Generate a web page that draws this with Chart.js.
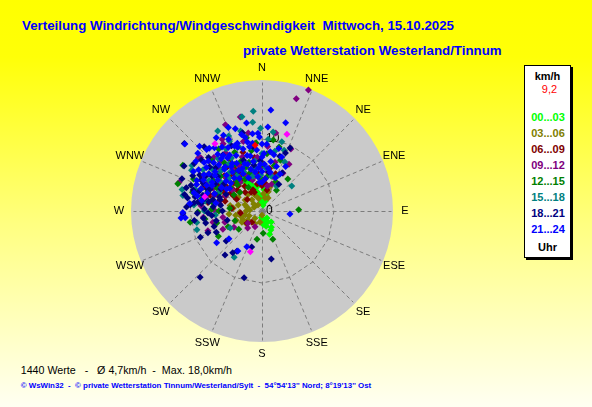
<!DOCTYPE html>
<html><head><meta charset="utf-8">
<script src="https://cdn.jsdelivr.net/npm/chart.js@4/dist/chart.umd.min.js"></script>
<style>
html,body{margin:0;padding:0;}
body{width:592px;height:407px;overflow:hidden;position:relative;
 background:linear-gradient(to bottom,#ffff00 0%,#ffff08 14%,#ffff80 55%,#fffff2 100%);
 font-family:"Liberation Sans",Arial,sans-serif;}
#c{position:absolute;left:0;top:0;}
.t{position:absolute;white-space:pre;line-height:1;}
#t1{left:22px;top:19.4px;font-weight:bold;font-size:13.3px;color:#0000ff;}
#t2{left:243px;top:44.2px;font-weight:bold;font-size:13.3px;color:#0000ff;}
#f1{left:20.7px;top:365px;font-size:10.7px;color:#000;}
#f2{left:20.7px;top:381.8px;font-size:7.9px;font-weight:bold;color:#0000ff;}
#box{position:absolute;left:524px;top:65px;width:45px;height:191px;background:#fff;border:1px solid #000;box-shadow:2px 2px 0 #000;}
.lg{position:absolute;left:524px;width:47px;text-align:center;font-size:11px;line-height:16px;height:16px;font-weight:bold;white-space:pre;}
</style></head>
<body>
<div class="t" id="t1"></div>
<div class="t" id="t2"></div>
<div class="t" id="f1"></div>
<div class="t" id="f2"></div>
<div id="box"></div>
<div id="legend"></div>
<canvas id="c" width="592" height="407"></canvas>
<script>
// ---------- texts ----------
const titleLine1 = 'Verteilung Windrichtung/Windgeschwindigkeit  Mittwoch, 15.10.2025';
const titleLine2 = 'private Wetterstation Westerland/Tinnum';
const footerLine1 = '1440 Werte   -   Ø 4,7km/h  -  Max. 18,0km/h';
const footerLine2 = '© WsWin32  -  © private Wetterstation Tinnum/Westerland/Sylt  -  54°54\'13\'\' Nord; 8°19\'13\'\' Ost';

// ---------- axes ----------
const dirLabels = ['N','NNE','NE','ENE','E','ESE','SE','SSE','S','SSW','SW','WSW','W','WNW','NW','NNW'];
const speedMax = 18.2;          // outer edge of the wind rose (km/h)
const ringValues = [10];        // dashed polygon ring
const radialTicks = [0, 10];    // tick labels on the north spoke

// ---------- legend ----------
const legendUnit = 'km/h';
const lastSpeedText = '9,2';
const timeBins = ['00...03','03...06','06...09','09...12','12...15','15...18','18...21','21...24'];
const binColors = ['#00ff00','#808000','#800000','#800080','#008000','#008080','#000080','#0000ff'];
const legendFooter = 'Uhr';

// ---------- data: [direction in degrees, speed in km/h] ----------
const wind_00_03 = [[323,6.7],[325,6.2],[328,5.8],[330,5.3],[332,4.9],[335,4.4],[338,4.0],[340,3.6],[343,3.2],[345,2.8],[348,2.5],[350,2.2],[352,1.9],[355,1.6],[358,1.3],[2,1.0],[10,0.8],[330,4.6],[334,3.8],[327,5.0],[342,2.6],[160,1.8],[165,2.2],[155,1.5],[170,1.2],[150,2.6],[175,1.9],[145,1.2],[185,0.9],[140,2.0],[20,1.5],[15,2.2],[345,4.8],[350,3.5],[0,2.0],[5,3.0],[336,5.4],[340,4.6],[155,2.9],[162,3.4]];
const wind_03_06 = [[284,3.4],[257,2.4],[275,1.7],[225,1.4],[267,3.1],[276,4.0],[326,1.0],[13,1.9],[18,2.8],[18,3.5],[180,0.6],[237,2.3],[318,2.1],[303,2.8],[261,3.7],[241,3.2],[190,1.6],[336,2.4],[319,3.0],[290,2.5],[250,1.9],[300,3.8],[270,2.2],[310,1.5],[230,2.8],[280,4.5],[295,1.2],[345,1.8],[5,2.4],[25,2.0],[265,4.6],[250,3.8],[255,3.0],[245,2.9],[285,2.2],[210,2.0]];
const wind_06_09 = [[314,10.1],[279,7.6],[337,3.2],[231,2.7],[13,3.0],[292,8.8],[222,2.1],[300,5.0],[305,6.2],[310,4.5],[315,5.5],[320,6.8],[325,4.2],[330,5.9],[335,7.2],[340,4.8],[345,6.0],[350,3.8],[355,5.2],[295,3.9],[285,5.3],[290,6.5],[318,3.5],[322,7.8],[328,8.4],[302,7.0],[312,8.0],[342,8.6],[275,4.2],[265,3.0],[5,4.5],[10,6.0],[338,2.8],[308,2.6],[298,4.5],[330,3.0],[316,6.6],[326,5.2],
  [303,6.0],[307,5.2],[313,7.2],[317,4.8],[323,6.2],[333,6.5],[343,5.5],[297,6.0],[287,7.5],[282,6.2],[292,5.5],[327,7.0],
  [2,6.5],[8,3.8],[20,5.5],[352,7.5],[0,3.5]];
const wind_09_12 = [[21,18.0],[17,16.3],[347,13.4],[337,13.0],[331,11.4],[330,10.8],[310,11.5],[220,3.1],[253,5.4],[261,5.5],[264,8.2],[229,2.6],[289,12.2],[311,11.3],[257,7.0],[204,2.4],[15,7.0],[29,6.0],[300,9.5],[320,9.0],[340,8.0],[355,7.5],[5,9.0],[350,11.0],[325,7.0],[295,7.5],[285,9.5],[275,8.5],[270,6.5],[245,6.0],[240,4.5],[250,8.0],[280,6.0],[305,5.0],[315,8.5],[335,5.5],[345,10.0],[10,11.0],[25,9.5],[20,4.0],
  [303,6.5],[313,7.0],[323,5.0],[333,7.0],[343,4.5],[293,5.5],[283,8.0],[308,8.0],[318,10.0],[328,9.5],[298,8.5],[288,7.0],
  [8,5.5],[18,5.0],[30,7.5],[358,6.0],[350,5.0],[12,3.5]];
const wind_12_15 = [[300,12.7],[288,12.3],[261,10.1],[269,8.9],[177,3.1],[159,4.2],[88,5.1],[39,5.7],[15,9.2],[348,10.4],[245,5.2],[232,4.1],[9,10.0],[262,8.0],[270,6.0],[280,7.0],[290,8.0],[300,6.5],[310,7.5],[320,5.5],[330,7.5],[340,6.5],[350,8.5],[355,9.5],[305,9.0],[295,10.5],[285,10.0],[315,9.8],[325,10.5],[335,9.0],[345,7.0],[0,6.5],[10,5.0],[20,7.5],[275,4.5],[255,6.5],[240,7.0],[250,4.0],[310,4.0],[330,3.8],[190,4.0],[300,4.5],
  [302,8.0],[312,6.5],[322,8.5],[332,5.0],[342,5.5],[292,6.5],[282,8.5],[272,7.0],[317,5.0],[327,6.5],[337,7.5],[307,5.5],[297,7.0],
  [5,8.0],[15,6.5],[25,4.5],[35,3.5],[352,6.0],[358,4.5]];
const wind_15_18 = [[355,13.9],[348,13.4],[354,12.4],[359,11.5],[331,12.7],[8,11.1],[336,11.4],[335,10.7],[16,10.0],[25,7.5],[303,11.6],[50,5.4],[281,11.2],[260,9.2],[254,9.4],[211,7.5],[242,5.0],[285,11.5],[300,11.3],[310,8.0],[320,9.5],[330,8.5],[340,9.5],[345,11.5],[350,9.0],[0,8.0],[5,10.0],[290,9.0],[275,9.5],[295,6.5],[315,6.5],[325,8.0],[335,6.0],[270,8.0],[265,6.5],[280,8.0],[305,10.0],[352,7.0],[12,8.5],[20,9.0],
  [300,8.5],[310,9.0],[320,7.0],[330,10.0],[288,9.8],[295,8.0],[305,7.0],[315,8.0],[325,6.0],[340,7.0],[350,6.0],[283,7.0],
  [5,6.0],[15,5.0],[25,5.5],[30,4.0],[358,5.0],[345,5.0]];
const wind_18_21 = [[346,11.2],[352,9.0],[24,9.6],[22,8.7],[32,4.4],[311,14.3],[287,11.0],[268,11.0],[247,9.3],[248,8.1],[215,7.1],[212,6.6],[196,5.2],[169,6.8],[223,12.6],[195,9.6],[275,10.0],[282,9.5],[290,10.5],[295,9.0],[300,10.0],[305,8.5],[310,9.5],[300,7.5],[290,7.0],[285,8.5],[280,7.5],[278,9.0],[272,8.0],[265,7.0],[258,8.0],[262,9.5],[252,7.0],[320,8.0],[325,9.5],[315,10.5],[330,6.5],[295,5.5],[285,6.0],[305,6.5],[310,11.0],[318,12.0],[335,10.0],[340,7.5],[270,5.5],[255,5.0],[245,7.0],[230,6.5],[220,8.0],[300,12.5],[292,12.0],[280,10.5],
  [277,8.5],[282,8.2],[287,9.2],[292,8.2],[297,9.5],[302,9.2],[287,10.0],[282,11.0],[277,9.5],[273,10.5],[268,9.0],[263,8.2],[275,6.8],[283,7.0],[293,7.8],[298,6.5],[308,7.8],[313,8.8],[297,10.8],[305,11.5],[288,6.2],[278,5.8],[268,7.5],[258,6.5],
  [10,5.5],[18,8.0],[28,6.0],[350,6.5],[358,7.0]];
const wind_21_24 = [[5,14.1],[350,12.4],[15,12.7],[4,11.7],[358,10.3],[311,14.2],[0,9.3],[4,9.3],[349,9.1],[320,11.4],[339,9.5],[8,8.3],[325,9.4],[26,5.7],[276,10.1],[265,10.7],[269,11.0],[265,11.3],[235,7.7],[230,6.0],[211,6.5],[203,5.4],[96,3.9],[357,10.8],[300,8.0],[305,9.0],[310,8.5],[315,9.5],[320,8.0],[325,7.5],[330,9.0],[335,8.5],[340,10.0],[345,8.0],[350,7.0],[355,8.5],[0,7.5],[10,7.0],[15,9.0],[20,8.0],[295,10.0],[290,9.0],[285,9.8],[280,8.5],[300,11.0],[310,10.5],[318,11.5],[328,10.5],[335,11.0],[342,12.0],[300,6.5],[310,6.5],[320,6.0],[330,6.5],[340,7.0],[350,5.5],[305,7.5],[315,7.0],[325,5.5],[335,6.5],[345,6.0],[355,6.0],[290,7.0],[280,6.5],[295,8.5],[312,12.0],[322,10.0],[332,7.5],[0,5.5],[8,6.0],[348,9.8],[338,5.0],[305,5.5],[328,12.0],
  [302,9.5],[308,9.8],[313,10.2],[317,8.8],[322,9.2],[327,8.8],[332,10.0],[337,9.8],[343,9.0],[347,10.5],[352,9.5],[298,9.2],[303,10.5],[307,11.5],[316,12.5],[323,11.0],[333,11.8],[338,12.5],[345,11.0],[353,10.8],[297,7.8],[302,5.8],[312,5.8],[318,7.8],[323,6.8],[328,7.8],[333,5.8],[343,6.8],[348,7.8],[353,4.8],[3,6.5],[12,8.0],[288,8.0],[283,9.2],[292,9.8],[307,8.2],
  [358,6.5],[2,8.0],[6,4.5],[12,5.5],[18,6.5],[22,5.0],[28,7.0],[355,4.0],[0,4.0]];
const wind_extra = [[18,11.2],[325,11.4],[284,8.2],[196,5.9]];   // magenta marks
const lastValue = [[354,9.2]];                                      // red: current value

const binData = [wind_00_03,wind_03_06,wind_06_09,wind_09_12,wind_12_15,wind_15_18,wind_18_21,wind_21_24];

// ---------- HTML texts ----------
document.getElementById('t1').textContent = titleLine1;
document.getElementById('t2').textContent = titleLine2;
document.getElementById('f1').textContent = footerLine1;
document.getElementById('f2').textContent = footerLine2;
(function(){
  const lg = document.getElementById('legend');
  function add(text, color, cy, bold, dx){
    const d = document.createElement('div');
    d.className = 'lg'; d.textContent = text; d.style.color = color;
    d.style.top = (cy - 7.9) + 'px';
    if(!bold) d.style.fontWeight = 'normal';
    if(dx) d.style.left = (524 + dx) + 'px';
    lg.appendChild(d);
  }
  add(legendUnit,'#000',75.7,true);
  add(lastSpeedText,'#ff0000',89,false,2);
  timeBins.forEach((t,i)=>add(t,binColors[i],117.3+i*15.95,true,0.5));
  add(legendFooter,'#000',246.7,true);
})();

// ---------- chart ----------
const toXY = arr => arr.map(([d,s]) => ({x: s*Math.sin(d*Math.PI/180), y: s*Math.cos(d*Math.PI/180)}));
const datasets = binData.map((arr,i)=>({
  label: timeBins[i], data: toXY(arr), backgroundColor: binColors[i],
  pointStyle:'rectRot', pointRadius:3.5, pointBorderWidth:0, order: 10 - i
}));
datasets.push({label:'extra', data: toXY(wind_extra), backgroundColor:'#ff00ff', pointStyle:'rectRot', pointRadius:3.5, pointBorderWidth:0, order:1});
datasets.push({label:'last', data: toXY(lastValue), backgroundColor:'#ff0000', pointStyle:'rectRot', pointRadius:3.5, pointBorderWidth:0, order:0});

const polarGrid = {
  id:'polarGrid',
  beforeDatasetsDraw(chart){
    const {ctx} = chart; const x = chart.scales.x, y = chart.scales.y;
    const cx = x.getPixelForValue(0), cy = y.getPixelForValue(0);
    const R = x.getPixelForValue(speedMax) - cx;
    const P = (v,a) => [x.getPixelForValue(v*Math.sin(a)), y.getPixelForValue(v*Math.cos(a))];
    ctx.save();
    ctx.fillStyle = '#cacaca';
    ctx.beginPath(); ctx.arc(cx, cy, R, 0, 2*Math.PI); ctx.fill();
    ctx.strokeStyle = '#7c7c7c'; ctx.lineWidth = 1; ctx.setLineDash([4,3]);
    const snap = v => Math.round(v) + 0.5;
    dirLabels.forEach((_,i)=>{
      const a = i*Math.PI/8;
      const [ex,ey] = P(speedMax*0.985, a);
      ctx.beginPath(); ctx.moveTo(snap(cx), snap(cy));
      ctx.lineTo(i%4===0 ? snap(ex) : ex, i%4===0 ? snap(ey) : ey); ctx.stroke();
    });
    ringValues.forEach(v=>{
      ctx.beginPath();
      for(let i=0;i<=16;i++){ const [px,py] = P(v, i*Math.PI/8); i ? ctx.lineTo(px,py) : ctx.moveTo(px,py); }
      ctx.stroke();
    });
    ctx.setLineDash([]);
    ctx.fillStyle = '#000';
    ctx.font = '11px "Liberation Sans", Arial, sans-serif';
    ctx.textAlign = 'center'; ctx.textBaseline = 'middle';
    const lr = speedMax * (R + 12) / R;
    dirLabels.forEach((t,i)=>{ const [px,py] = P(lr, i*Math.PI/8); ctx.fillText(t, px, py); });
    ctx.font = '12px "Liberation Sans", Arial, sans-serif';
    ctx.textAlign = 'left';
    radialTicks.forEach(v=>{ ctx.fillText(String(v), cx + 4, y.getPixelForValue(v)); });
    ctx.restore();
  }
};

new Chart(document.getElementById('c'), {
  type:'scatter',
  data:{datasets},
  options:{
    responsive:false, animation:false, devicePixelRatio:1,
    layout:{padding:{left:131,right:199,top:80,bottom:65}},
    scales:{
      x:{type:'linear',min:-speedMax,max:speedMax,display:false},
      y:{type:'linear',min:-speedMax,max:speedMax,display:false}
    },
    plugins:{legend:{display:false},tooltip:{enabled:false}},
    elements:{point:{hoverRadius:3.5}}
  },
  plugins:[polarGrid]
});
</script>
</body></html>
